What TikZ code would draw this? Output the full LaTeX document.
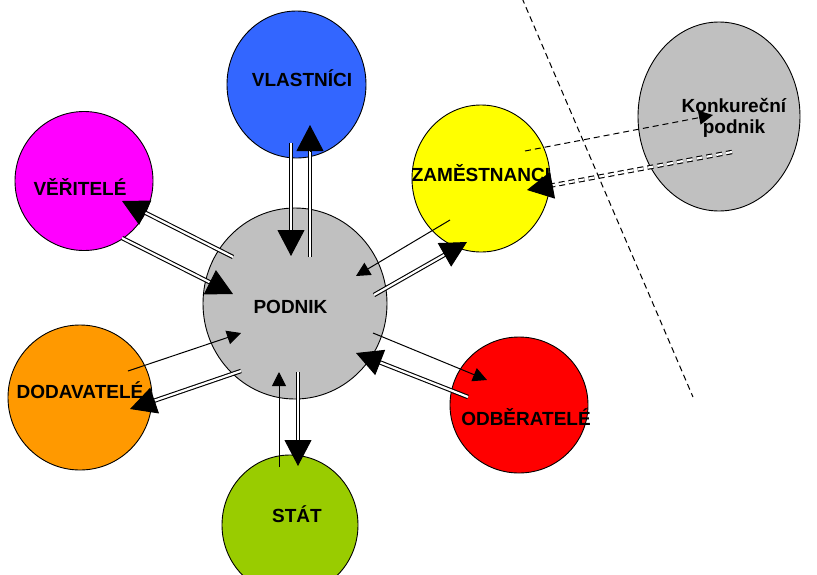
\documentclass[tikz,border=0pt]{standalone}
\usepackage{fontspec}
\setmainfont{Liberation Sans}
\usetikzlibrary{arrows.meta,calc,shapes.geometric}
\definecolor{cblue}{HTML}{3366FF}
\definecolor{cmag}{HTML}{FF00FF}
\definecolor{cyel}{HTML}{FFFF00}
\definecolor{cgray}{HTML}{C0C0C0}
\definecolor{corange}{HTML}{FF9900}
\definecolor{cgreen}{HTML}{99CC00}
\definecolor{cred}{HTML}{FF0000}
\newcommand\twoline[3][]{%
  \draw[dbl,#1] (#2) -- (#3);
  \draw[bighead] ($(#3)!26pt!(#2)$) -- (#3);}
\begin{document}
\begin{tikzpicture}[x=1pt,y=-1pt,
  blob/.style={ellipse, draw=black, line width=0.9pt, inner sep=0pt},
  lbl/.style={font=\bfseries\fontsize{19}{22}\selectfont, anchor=base, inner sep=0pt},
  sgl/.style={line width=1pt, -{Triangle[length=14pt,width=14pt]}},
  dbl/.style={line width=1.1pt, double, double distance=2.2pt, shorten >=20pt},
  bighead/.style={-{Triangle[length=26pt,width=27pt]}, line width=1pt},
  dsh/.style={dash pattern=on 6pt off 4pt}]
\useasboundingbox (0,0) rectangle (817,574);
% circles
\node[blob, fill=cblue, minimum width=139pt, minimum height=147pt] (vl) at (296.5,84.5) {};
\node[blob, fill=cmag, minimum width=138pt, minimum height=139pt] (ve) at (84,181) {};
\node[blob, fill=cyel, minimum width=138pt, minimum height=147pt] (za) at (481,178.5) {};
\node[blob, fill=cgray, minimum width=184pt, minimum height=191pt] (po) at (295,303.5) {};
\node[blob, fill=corange, minimum width=144pt, minimum height=145pt] (do) at (80,397.5) {};
\node[blob, fill=cgreen, minimum width=136pt, minimum height=140pt] (st) at (290,525) {};
\node[blob, fill=cred, minimum width=138pt, minimum height=136pt] (od) at (519,405) {};
\node[blob, fill=cgray, minimum width=162pt, minimum height=189pt] (ko) at (719,116.5) {};
% labels
\node[lbl] (tvl) at (302,86) {VLASTNÍCI};
\node[lbl] (tpo) at (290.5,313) {PODNIK};
\node[lbl] (tve) at (80,195) {VĚŘITELÉ};
\node[lbl] (tza) at (481,181) {ZAMĚSTNANCI};
\node[lbl] (tdo) at (80,398) {DODAVATELÉ};
\node[lbl] (tod) at (526,425) {ODBĚRATELÉ};
\node[lbl] (tst) at (297,522) {STÁT};
\node[lbl] (tk1) at (734,112) {Konkureční};
\node[lbl] (tk2) at (734,133) {podnik};
% coordinates
\coordinate (v1s) at (291,143); \coordinate (v1t) at (291,256);
\coordinate (v2s) at (310,257); \coordinate (v2t) at (310,125);
\coordinate (r1s) at (233,257); \coordinate (r1t) at (122,201);
\coordinate (r2s) at (122,238); \coordinate (r2t) at (233,294);
\coordinate (z1s) at (450,220); \coordinate (z1t) at (356,276);
\coordinate (z2s) at (374,295); \coordinate (z2t) at (467,242);
\coordinate (d1s) at (128,371); \coordinate (d1t) at (241,333);
\coordinate (d2s) at (241,371); \coordinate (d2t) at (130,409);
\coordinate (s1s) at (279,467); \coordinate (s1t) at (279,372);
\coordinate (s2s) at (298,372); \coordinate (s2t) at (298,466);
\coordinate (o1s) at (373,333); \coordinate (o1t) at (487,380);
\coordinate (o2s) at (468,397); \coordinate (o2t) at (356,353);
\coordinate (k1s) at (525,151); \coordinate (k1t) at (713,115);
\coordinate (k2s) at (732,152); \coordinate (k2t) at (527,190);
\coordinate (l1) at (522,-2); \coordinate (l2) at (693,397);
% connectors
\twoline{v1s}{v1t}
\twoline{v2s}{v2t}
\twoline{r1s}{r1t}
\twoline{r2s}{r2t}
\draw[sgl] (z1s) -- (z1t);
\twoline{z2s}{z2t}
\draw[sgl] (d1s) -- (d1t);
\twoline{d2s}{d2t}
\draw[sgl] (s1s) -- (s1t);
\twoline{s2s}{s2t}
\draw[sgl] (o1s) -- (o1t);
\twoline{o2s}{o2t}
\draw[sgl, dsh] (k1s) -- (k1t);
\twoline[dsh]{k2s}{k2t}
\draw[line width=1pt, dsh] (l1) -- (l2);
\end{tikzpicture}
\end{document}
